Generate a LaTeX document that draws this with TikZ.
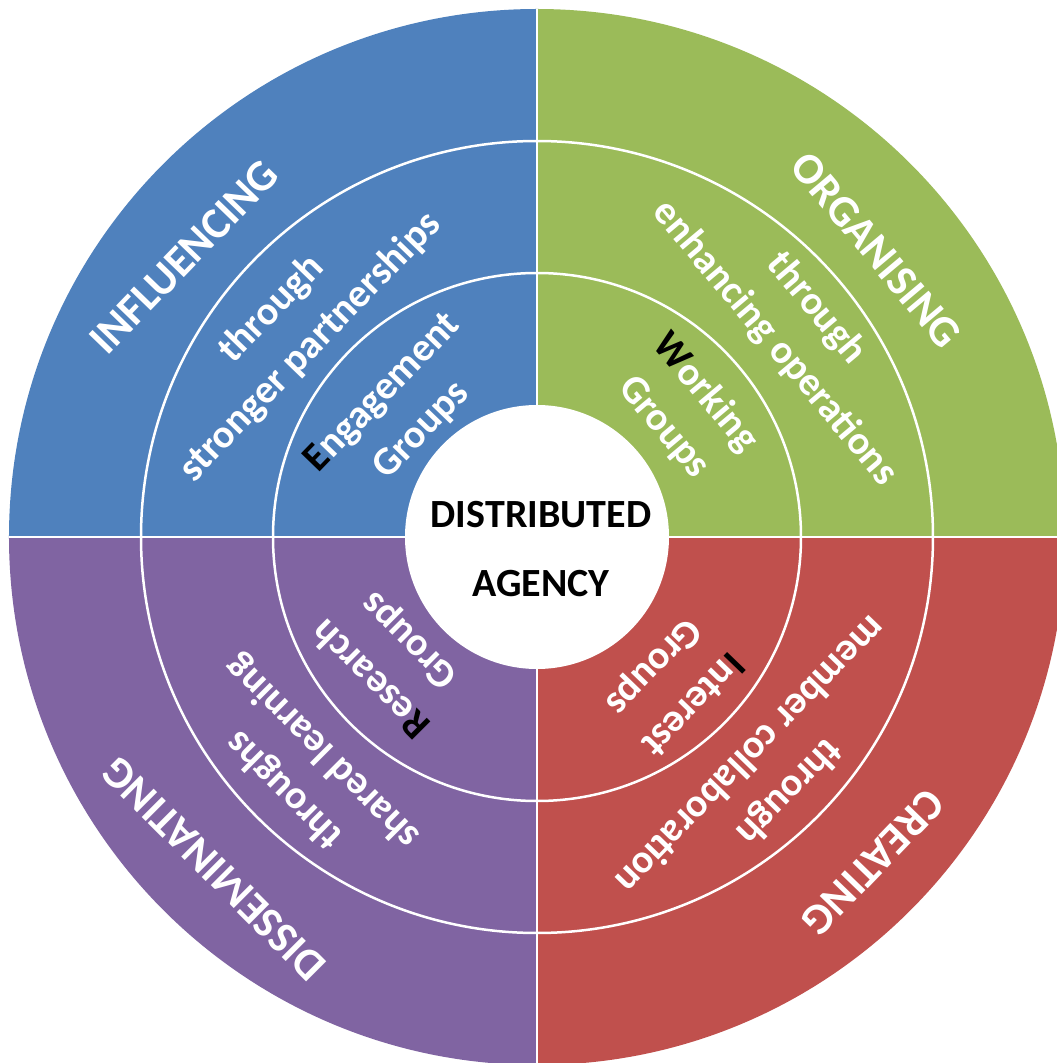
\documentclass[tikz,border=0pt]{standalone}
\usepackage{fontspec}
\setmainfont{Carlito}
\definecolor{qblue}{HTML}{4F81BD}
\definecolor{qgreen}{HTML}{9BBB59}
\definecolor{qpurple}{HTML}{8064A2}
\definecolor{qred}{HTML}{C0504D}
\begin{document}
\begin{tikzpicture}[x=1pt,y=1pt,
  lbl/.style={text=white, font=\bfseries\fontsize{40}{54}\selectfont, align=center, inner sep=0pt},
  headlbl/.style={lbl, font=\bfseries\fontsize{44}{54}\selectfont},
  hubtext/.style={text=black, font=\bfseries\fontsize{40}{69}\selectfont, align=center, inner sep=0pt},
  ring/.style={draw=white, line width=2.5pt},
  divider/.style={draw=white, line width=2.5pt}]
\clip (-537,-526) rectangle (520,537);

% four coloured quadrants
\fill[qblue]   (0,0) -- (90:528)  arc[start angle=90,  end angle=180, radius=528] -- cycle;
\fill[qgreen]  (0,0) -- (0:528)   arc[start angle=0,   end angle=90,  radius=528] -- cycle;
\fill[qpurple] (0,0) -- (180:528) arc[start angle=180, end angle=270, radius=528] -- cycle;
\fill[qred]    (0,0) -- (270:528) arc[start angle=270, end angle=360, radius=528] -- cycle;

% ring separators and quadrant dividers
\draw[ring] (0,0) circle[radius=396];
\draw[ring] (0,0) circle[radius=264];
\draw[divider] (-528,0) -- (528,0);
\draw[divider] (0,-528) -- (0,528);

% hub
\node[circle, fill=white, minimum size=264pt, inner sep=0pt] (hub) at (0,0) {};
\node[hubtext] (title) at (4,-12.5) {DISTRIBUTED\\AGENCY};

% influencing
\node[headlbl, rotate=46] (inf1) at (-353,280) {INFLUENCING};
\node[lbl, rotate=46] (inf2) at (-246,208.5) {through\\stronger partnerships};
\node[lbl, rotate=46] (inf3) at (-134.5,125) {\textcolor{black}{E}ngagement\\Groups};

% organising
\node[headlbl, rotate=-50] (org1) at (339,287) {ORGANISING};
\node[lbl, rotate=-50] (org2) at (258.5,211) {through\\enhancing operations};
\node[lbl, rotate=-50] (org3) at (147.6,127) {\textcolor{black}{W}orking\\Groups};

% disseminating
\node[headlbl, rotate=135] (dis1) at (-323,-332) {DISSEMINATING};
\node[lbl, rotate=135] (dis2) at (-233.2,-233.2) {throughs\\shared learning};
\node[lbl, rotate=135] (dis3) at (-146.3,-122) {\textcolor{black}{R}esearch\\Groups};

% creating
\node[headlbl, rotate=-134] (cre1) at (336,-325.5) {CREATING};
\node[lbl, rotate=-134] (cre2) at (234.2,-237.6) {through\\member collaboration};
\node[lbl, rotate=-134] (cre3) at (135,-147.6) {\textcolor{black}{I}nterest\\Groups};
\end{tikzpicture}
\end{document}
